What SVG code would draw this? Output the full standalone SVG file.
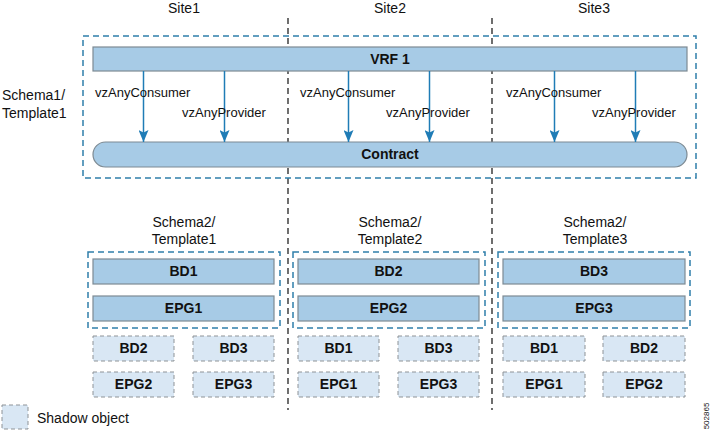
<svg xmlns="http://www.w3.org/2000/svg" width="714" height="431" viewBox="0 0 714 431">
<style>
text{font-family:"Liberation Sans",Arial,sans-serif;fill:#111}
.lbl{font-size:14px}
.sm{font-size:13px}
.b{font-size:14px;font-weight:bold;text-anchor:middle}
.c{text-anchor:middle}
.grp{fill:none;stroke:#2f7fab;stroke-width:1.5;stroke-dasharray:6 4}
.obj{fill:#a7cbe6;stroke:#7d8a93;stroke-width:1.2}
.sh{fill:#d9e7f4;stroke:#8e9397;stroke-width:1;stroke-dasharray:4 3}
.site{stroke:#222;stroke-width:1.3;stroke-dasharray:6 4}
.arr{stroke:#1f7cb6;stroke-width:1.5;fill:none;marker-end:url(#ah)}
</style>
<defs>
<marker id="ah" viewBox="0 0 12 10" refX="12" refY="5" markerWidth="12" markerHeight="10" markerUnits="userSpaceOnUse" orient="auto">
<path d="M0,0 L12,5 L0,10 L2.5,5 Z" fill="#1f7cb6"/>
</marker>
</defs>
<rect width="714" height="431" fill="#fff"/>
<g id="sites">
<line class="site" x1="288" y1="18" x2="288" y2="410"/>
<line class="site" x1="492" y1="18" x2="492" y2="410"/>
<text class="lbl c" x="184" y="13">Site1</text>
<text class="lbl c" x="390" y="13">Site2</text>
<text class="lbl c" x="594" y="13">Site3</text>
</g>
<g id="schema1">
<rect class="grp" x="83" y="36" width="613" height="142"/>
<text class="lbl" x="2" y="100">Schema1/</text>
<text class="lbl" x="2" y="118">Template1</text>
</g>
<g id="vrf1">
<rect class="obj" x="93" y="47" width="594" height="24"/>
<text class="b" x="390" y="64">VRF 1</text>
</g>
<g id="contract">
<rect class="obj" x="93" y="142" width="594" height="25" rx="12.5"/>
<text class="b" x="390" y="159">Contract</text>
</g>
<g id="connectors">
<line class="arr" x1="143.5" y1="71" x2="143.5" y2="142"/>
<line class="arr" x1="224.5" y1="71" x2="224.5" y2="142"/>
<line class="arr" x1="348.5" y1="71" x2="348.5" y2="142"/>
<line class="arr" x1="429.5" y1="71" x2="429.5" y2="142"/>
<line class="arr" x1="554.5" y1="71" x2="554.5" y2="142"/>
<line class="arr" x1="635.5" y1="71" x2="635.5" y2="142"/>
</g>
<g id="connector-labels">
<text class="sm" x="95" y="97">vzAnyConsumer</text>
<text class="sm" x="182" y="117">vzAnyProvider</text>
<text class="sm" x="300" y="97">vzAnyConsumer</text>
<text class="sm" x="386" y="117">vzAnyProvider</text>
<text class="sm" x="506" y="97">vzAnyConsumer</text>
<text class="sm" x="592" y="117">vzAnyProvider</text>
</g>
<g id="template1">
<text class="lbl c" x="184" y="227">Schema2/</text>
<text class="lbl c" x="184" y="244">Template1</text>
<rect class="grp" x="88" y="252" width="192" height="76"/>
<rect class="obj" x="93" y="259" width="181" height="25"/>
<text class="b" x="183.5" y="276">BD1</text>
<rect class="obj" x="93" y="296" width="181" height="25"/>
<text class="b" x="183.5" y="313">EPG1</text>
</g>
<g id="shadow1">
<rect class="sh" x="93" y="336" width="81" height="25"/>
<text class="b" x="133.5" y="353">BD2</text>
<rect class="sh" x="193" y="336" width="81" height="25"/>
<text class="b" x="233.5" y="353">BD3</text>
<rect class="sh" x="93" y="372" width="81" height="25"/>
<text class="b" x="133.5" y="389">EPG2</text>
<rect class="sh" x="193" y="372" width="81" height="25"/>
<text class="b" x="233.5" y="389">EPG3</text>
</g>
<g id="template2">
<text class="lbl c" x="390" y="227">Schema2/</text>
<text class="lbl c" x="390" y="244">Template2</text>
<rect class="grp" x="293" y="252" width="192" height="76"/>
<rect class="obj" x="298" y="259" width="181" height="25"/>
<text class="b" x="388.5" y="276">BD2</text>
<rect class="obj" x="298" y="296" width="181" height="25"/>
<text class="b" x="388.5" y="313">EPG2</text>
</g>
<g id="shadow2">
<rect class="sh" x="298" y="336" width="81" height="25"/>
<text class="b" x="338.5" y="353">BD1</text>
<rect class="sh" x="398" y="336" width="81" height="25"/>
<text class="b" x="438.5" y="353">BD3</text>
<rect class="sh" x="298" y="372" width="81" height="25"/>
<text class="b" x="338.5" y="389">EPG1</text>
<rect class="sh" x="398" y="372" width="81" height="25"/>
<text class="b" x="438.5" y="389">EPG3</text>
</g>
<g id="template3">
<text class="lbl c" x="595" y="227">Schema2/</text>
<text class="lbl c" x="595" y="244">Template3</text>
<rect class="grp" x="498" y="252" width="192" height="76"/>
<rect class="obj" x="503" y="259" width="182" height="25"/>
<text class="b" x="594" y="276">BD3</text>
<rect class="obj" x="503" y="296" width="182" height="25"/>
<text class="b" x="594" y="313">EPG3</text>
</g>
<g id="shadow3">
<rect class="sh" x="503" y="336" width="82" height="25"/>
<text class="b" x="544" y="353">BD1</text>
<rect class="sh" x="603" y="336" width="82" height="25"/>
<text class="b" x="644" y="353">BD2</text>
<rect class="sh" x="503" y="372" width="82" height="25"/>
<text class="b" x="544" y="389">EPG1</text>
<rect class="sh" x="603" y="372" width="82" height="25"/>
<text class="b" x="644" y="389">EPG2</text>
</g>
<g id="legend">
<rect class="sh" x="2" y="405" width="26" height="24"/>
<text class="lbl" x="37" y="423">Shadow object</text>
</g>
<text x="0" y="0" font-size="8" text-anchor="middle" transform="translate(709 416) rotate(-90)">502865</text>
</svg>
